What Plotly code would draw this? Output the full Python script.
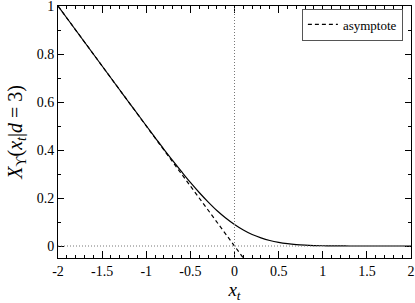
import plotly.graph_objects as go

# Curve values
x_vals = [-2.0, -1.9, -1.8, -1.7, -1.6, -1.5, -1.4, -1.3, -1.2, -1.1, -1.0,
          -0.9, -0.8, -0.7, -0.6, -0.5, -0.4, -0.3, -0.2, -0.1, 0.0,
          0.1, 0.2, 0.3, 0.4, 0.5, 0.6, 0.7, 0.8, 0.9, 1.0,
          1.1, 1.2, 1.3, 1.4, 1.5, 1.6, 1.7, 1.8, 1.9, 2.0]
y_vals = [1.000, 0.950, 0.900, 0.850, 0.800, 0.750, 0.700, 0.650, 0.600, 0.551, 0.501,
          0.452, 0.403, 0.356, 0.310, 0.265, 0.223, 0.184, 0.148, 0.117, 0.090,
          0.067, 0.048, 0.034, 0.023, 0.015, 0.0095, 0.0058, 0.0034, 0.0019, 0.001,
          0.0005, 0.0003, 0.0001, 0.0, 0.0, 0.0, 0.0, 0.0, 0.0, 0.0]

# Asymptote end points
asym_x = [-2.0, 0.1]
asym_y = [1.0, -0.05]

x_ticks = [-2, -1.5, -1, -0.5, 0, 0.5, 1, 1.5, 2]
x_ticklabels = ["-2", "-1.5", "-1", "-0.5", "0", "0.5", "1", "1.5", "2"]
y_ticks = [0, 0.2, 0.4, 0.6, 0.8, 1]
y_ticklabels = ["0", "0.2", "0.4", "0.6", "0.8", "1"]

FONT = "'Times New Roman', Tinos, Times, 'Liberation Serif', serif"

fig = go.Figure()
fig.add_trace(go.Scatter(x=x_vals, y=y_vals, mode="lines", line=dict(color="black", width=1.2, shape="spline"),
                         showlegend=False))
fig.add_trace(go.Scatter(x=asym_x, y=asym_y, mode="lines", line=dict(color="black", width=1.2, dash="4px,3px"),
                         name="asymptote", showlegend=True))

fig.add_vline(x=0, line=dict(color="#777777", width=1, dash="1px,2px"))
fig.add_hline(y=0, line=dict(color="#777777", width=1, dash="1px,2px"))

axis_common = dict(showline=True, linecolor="black", linewidth=1, mirror="allticks",
                   ticks="inside", tickcolor="black", showgrid=False, zeroline=False,
                   ticklabeloverflow="allow", automargin=False,
                   tickfont=dict(family=FONT, size=14, color="black"))

fig.update_xaxes(range=[-2, 2], tickvals=x_ticks, ticktext=x_ticklabels, ticklen=7,
                 minor=dict(dtick=0.1, ticks="inside", ticklen=3, tickcolor="black", showgrid=False),
                 title=dict(text="<i>x</i><sub><i>t</i></sub>", font=dict(family=FONT, size=19, color="black"),
                            standoff=16),
                 **axis_common)
fig.update_yaxes(range=[-0.05, 1], tickvals=y_ticks, ticktext=y_ticklabels, ticklen=6,
                 minor=dict(dtick=0.1, ticks="inside", ticklen=3, tickcolor="black", showgrid=False),
                 title=dict(text="<i>X</i><sub>ϒ</sub>(<i>x</i><sub><i>t</i></sub>|<i>d</i> = 3)",
                            font=dict(family=FONT, size=20, color="black"), standoff=8),
                 **axis_common)

fig.update_layout(
    width=415, height=303,
    margin=dict(l=58, r=4, t=6, b=45),
    paper_bgcolor="white", plot_bgcolor="white",
    legend=dict(x=0.977, y=0.99, xanchor="right", yanchor="top",
                bordercolor="#555555", borderwidth=1, bgcolor="white",
                font=dict(family=FONT, size=13, color="black"),
                itemwidth=30, tracegroupgap=0),
    font=dict(family=FONT, color="black"),
)

fig.write_html("out.html", config={"displayModeBar": False},
               post_script="document.body.style.margin='0';document.body.style.overflow='hidden';")
